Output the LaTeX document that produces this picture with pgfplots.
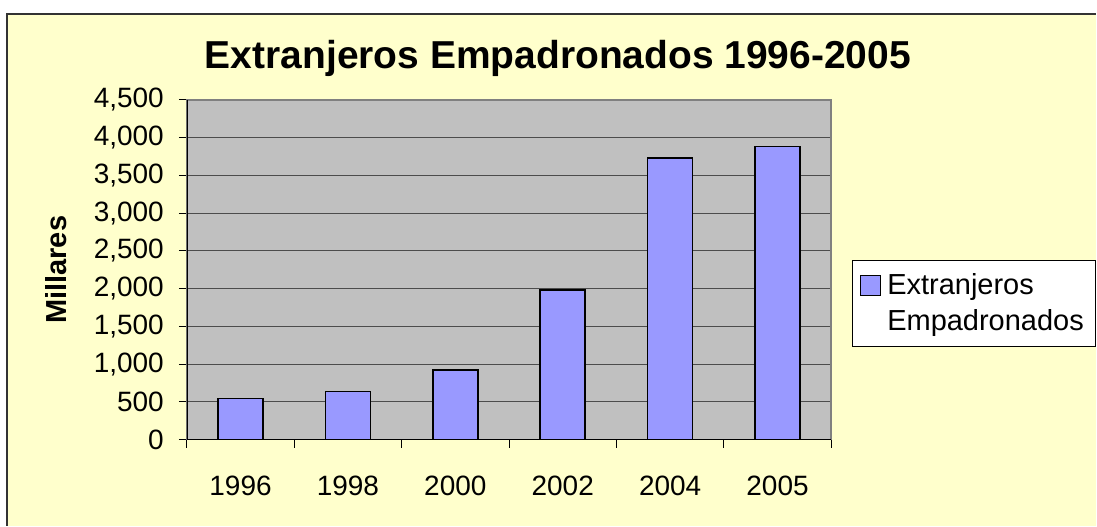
\documentclass[border=0pt]{standalone}
\usepackage{fontspec}
\setmainfont{Liberation Sans}
\usepackage{pgfplots}
\pgfplotsset{compat=1.18}
\definecolor{bgyellow}{HTML}{FFFFCC}
\definecolor{plotgray}{HTML}{C0C0C0}
\definecolor{barblue}{HTML}{9999FF}
\begin{document}
\begin{tikzpicture}[x=0.5pt,y=0.5pt]
\fill[white] (0,0) rectangle (1097,526);
\fill[bgyellow] (7,0) rectangle (1097,512);
\draw[black!80, line width=1pt] (7,0) -- (7,512) -- (1097,512);
\node[font=\bfseries\fontsize{19.5}{24}\selectfont, anchor=base] at (558.5,457) {Extranjeros Empadronados 1996-2005};
\begin{axis}[
  at={(93.5pt,43pt)}, anchor=south west,
  scale only axis, width=322.5pt, height=170pt,
  xmin=-0.5, xmax=5.5, ymin=0, ymax=4500,
  ytick={0,500,...,4500},
  xtick={-0.5,0.5,1.5,2.5,3.5,4.5,5.5},
  xticklabels={},
  extra x ticks={0,1,2,3,4,5},
  extra x tick labels={1996,1998,2000,2002,2004,2005},
  extra x tick style={grid=none, major tick length=0pt, tick style={draw=none}},
  xtick pos=bottom, ytick pos=left,
  tick align=outside,
  major tick length=4pt,
  x tick style={draw=black, line width=0.5pt},
  y tick style={draw=black, line width=0.5pt},
  xticklabel style={yshift=-14.5pt},
  yticklabel style={xshift=-4pt},
  ymajorgrids, grid style={black!70, line width=0.5pt},
  axis background/.style={fill=plotgray},
  axis line style={draw=black!50, line width=0.8pt},
  ticklabel style={font=\fontsize{14}{16}\selectfont},
  /pgf/number format/assume math mode=true,
  /pgf/number format/1000 sep={,},
  scaled y ticks=false,
  ylabel={Millares},
  ylabel style={font=\bfseries\fontsize{14.5}{17}\selectfont, at={(axis description cs:-0.2031,0.5)}, anchor=center},
  legend style={at={(axis description cs:1.0326,0.529)}, anchor=north west, draw=black, fill=white, line width=0.5pt,
    font=\fontsize{14.5}{16}\selectfont, inner xsep=3pt, inner ysep=4.5pt, row sep=2pt, nodes={inner xsep=3pt}},
  legend cell align=left,
]
\addplot[ybar, bar width=22.5pt, fill=barblue, draw=black, line width=0.8pt,
  legend image code/.code={\draw[fill=barblue, draw=black, line width=0.6pt] (1pt,-5pt) rectangle (11pt,5pt);}]
  coordinates {(0,542) (1,637) (2,924) (3,1978) (4,3731) (5,3885)};
\addlegendentry{Extranjeros}
\addlegendimage{empty legend}
\addlegendentry{Empadronados}
\draw[black, line width=0.8pt] (rel axis cs:0,1) -- (rel axis cs:0,0) -- (rel axis cs:1,0);
\end{axis}
\end{tikzpicture}
\end{document}
